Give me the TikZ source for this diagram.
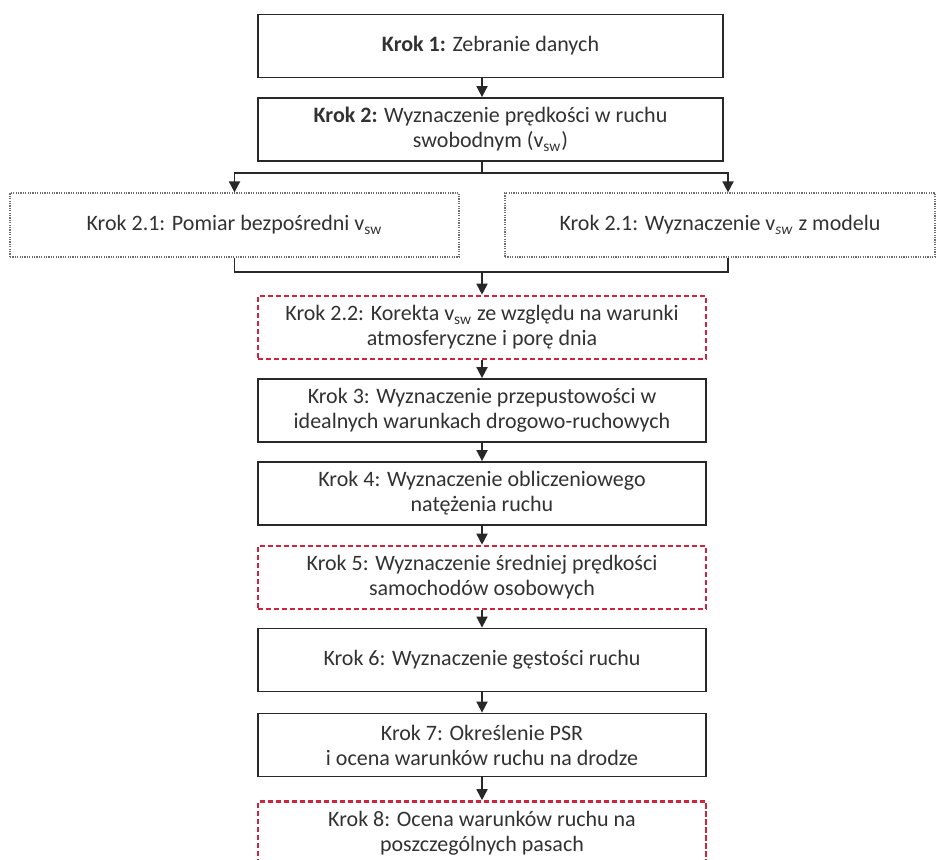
\documentclass[tikz,border=0pt]{standalone}
\usepackage{fontspec}
\setmainfont{Carlito}
\usepackage{tikz}
\usetikzlibrary{arrows.meta, positioning, calc}
\usepackage{xcolor}
\definecolor{tekst}{RGB}{50,50,50}
\definecolor{linia}{RGB}{40,40,40}
\definecolor{czerwony}{RGB}{208,36,60}
\definecolor{szary}{RGB}{110,110,110}

\begin{document}
\begin{tikzpicture}[
    x=0.5pt, y=-0.5pt,
    stepbox/.style={rectangle, draw=linia, line width=0.9pt, minimum height=31.5pt, align=center, text=tekst, font=\fontsize{11}{12.5}\selectfont, fill=white},
    optbox/.style={rectangle, draw=szary, line width=0.6pt, dash pattern=on 0.6pt off 0.6pt, minimum height=32pt, align=center, text=tekst, font=\fontsize{11}{12.5}\selectfont},
    corrbox/.style={rectangle, draw=czerwony, line width=1.3pt, dash pattern=on 2.6pt off 1.4pt, minimum height=31.5pt, align=center, text=tekst, font=\fontsize{11}{12.5}\selectfont},
    arr/.style={-{Triangle[length=5.5pt, width=5.5pt]}, draw=linia, line width=0.9pt},
    line/.style={draw=linia, line width=0.9pt}
]
    \useasboundingbox (0,0) rectangle (941,860);

    % Krok 1 i 2 -- szersze bloki u góry
    \node[stepbox, minimum width=232.5pt] (k1) at (490.5,46) {\textbf{Krok 1:} Zebranie danych};
    \node[stepbox, minimum width=232.5pt] (k2) at (490.5,129.5) {\textbf{Krok 2:} Wyznaczenie prędkości w ruchu\\swobodnym (v\textsubscript{sw})};

    % Krok 2.1 -- dwie ścieżki obok siebie
    \node[optbox, minimum width=224.5pt] (k21a) at (234.5,225) {Krok 2.1: Pomiar bezpośredni v\textsubscript{sw}};
    \node[optbox, minimum width=215pt] (k21b) at (720,225) {Krok 2.1: Wyznaczenie v\textsubscript{\textit{sw}} z modelu};

    % Kolumna główna
    \node[corrbox, minimum width=224pt] (k22) at (482,327.5) {Krok 2.2: Korekta v\textsubscript{sw} ze względu na warunki\\atmosferyczne i porę dnia};
    \node[stepbox, minimum width=224pt] (k3) at (482,410.5) {Krok 3: Wyznaczenie przepustowości w\\idealnych warunkach drogowo-ruchowych};
    \node[stepbox, minimum width=224pt] (k4) at (482,493.5) {Krok 4: Wyznaczenie obliczeniowego\\natężenia ruchu};
    \node[corrbox, minimum width=224pt] (k5) at (482,577.5) {Krok 5: Wyznaczenie średniej prędkości\\samochodów osobowych};
    \node[stepbox, minimum width=224pt] (k6) at (482,660) {Krok 6: Wyznaczenie gęstości ruchu};
    \node[stepbox, minimum width=224pt] (k7) at (482,745) {Krok 7: Określenie PSR\\i ocena warunków ruchu na drodze};
    \node[corrbox, minimum width=224pt] (k8) at (482,833) {Krok 8: Ocena warunków ruchu na\\poszczególnych pasach};

    % punkty rozgałęzienia
    \coordinate (split) at (482,173);
    \coordinate (merge) at (482,272);

    % === Strzałki ===
    \draw[arr] (k1.south -| k22.north) -- (k2.north -| k22.north);
    \draw[arr] (k2.south -| split) -- (split) -| (k21a.north);
    \draw[arr] (split) -| ([xshift=4pt]k21b.north);
    \draw[line] (k21a.south) |- (merge);
    \draw[line] ([xshift=4pt]k21b.south) |- (merge);
    \draw[arr] (merge) -- (k22.north);

    \draw[arr] (k22) -- (k3);
    \draw[arr] (k3) -- (k4);
    \draw[arr] (k4) -- (k5);
    \draw[arr] (k5) -- (k6);
    \draw[arr] (k6) -- (k7);
    \draw[arr] (k7) -- (k8);

\end{tikzpicture}
\end{document}
